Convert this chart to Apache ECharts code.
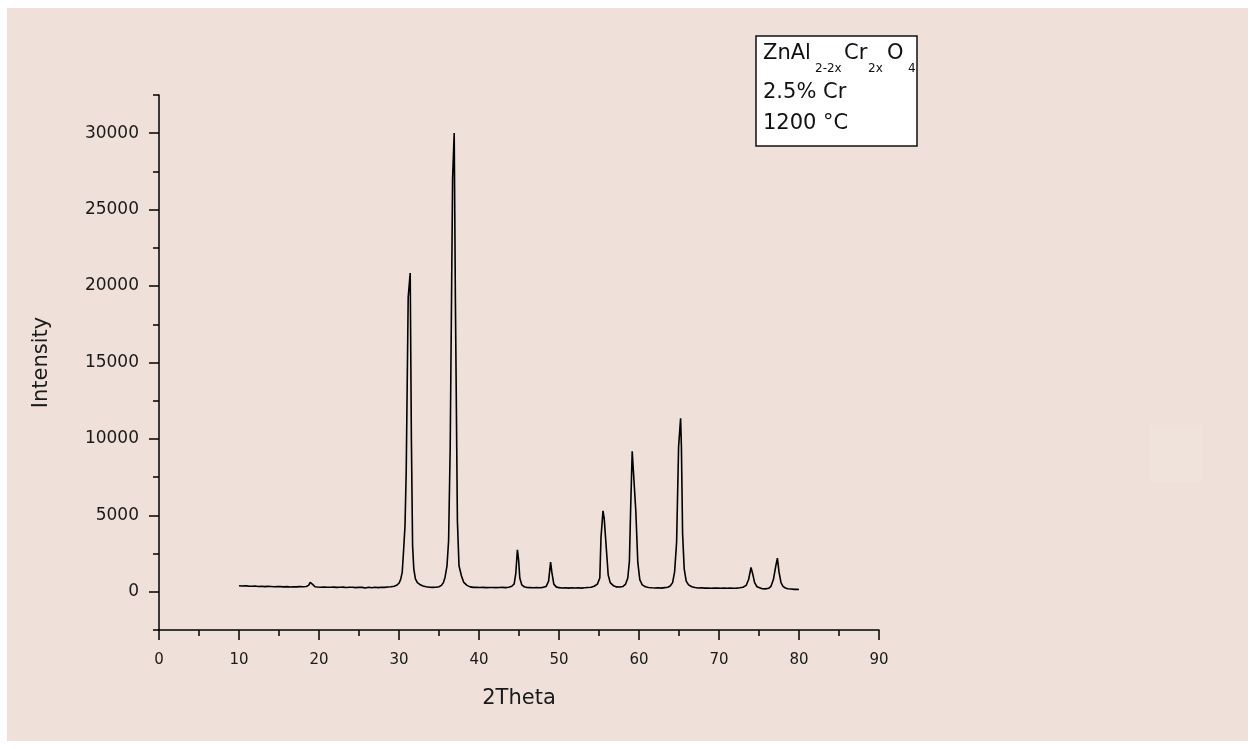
<!DOCTYPE html>
<html>
<head>
<meta charset="utf-8">
<title>ZnAl2-2xCr2xO4 XRD pattern</title>
<script src="https://cdn.jsdelivr.net/npm/echarts@6/dist/echarts.min.js"></script>
<style>
  html, body { margin: 0; padding: 0; background: #ffffff; }
  #panel { position: absolute; left: 7px; top: 8px; width: 1241px; height: 733px; background: #efe0d9; }
  #chart { position: absolute; left: 0; top: 0; width: 1255px; height: 749px; }
</style>
</head>
<body>
<div id="panel"></div>
<div id="chart"></div>
<script>
// Diffraction angle (2θ, degrees) and measured intensity (counts), row by row
const twoTheta = [
  10.0, 10.4, 10.8, 11.2, 11.6, 12.0, 12.4, 12.8, 13.2, 13.6,
  14.0, 14.4, 14.8, 15.2, 15.6, 16.0, 16.4, 16.8, 17.2, 17.6,
  18.0, 18.4, 18.7, 18.9, 19.0, 19.2, 19.5, 19.8, 20.2, 20.6,
  21.0, 21.4, 21.8, 22.2, 22.6, 23.0, 23.4, 23.8, 24.2, 24.6,
  25.0, 25.4, 25.8, 26.2, 26.6, 27.0, 27.4, 27.8, 28.2, 28.6,
  29.0, 29.4, 29.7, 30.0, 30.2, 30.4, 30.55, 30.75, 30.9, 31.15,
  31.4, 31.55, 31.7, 31.85, 32.05, 32.3, 32.6, 33.0, 33.4, 33.8,
  34.2, 34.6, 35.0, 35.3, 35.55, 35.75, 36.0, 36.2, 36.4, 36.7,
  36.9, 37.05, 37.3, 37.5, 37.8, 38.1, 38.5, 38.9, 39.3, 39.7,
  40.1, 40.5, 40.9, 41.3, 41.7, 42.1, 42.5, 42.9, 43.3, 43.7,
  44.1, 44.4, 44.6, 44.8, 44.95, 45.1, 45.35, 45.65, 46.0, 46.4,
  46.8, 47.2, 47.6, 48.0, 48.4, 48.7, 48.95, 49.1, 49.35, 49.65,
  50.0, 50.4, 50.8, 51.2, 51.6, 52.0, 52.4, 52.8, 53.2, 53.6,
  54.0, 54.4, 54.8, 55.1, 55.25, 55.5, 55.65, 55.95, 56.15, 56.4,
  56.8, 57.2, 57.6, 58.0, 58.3, 58.6, 58.8, 58.95, 59.15, 59.4,
  59.6, 59.85, 60.1, 60.4, 60.8, 61.2, 61.6, 62.0, 62.4, 62.8,
  63.2, 63.6, 63.9, 64.2, 64.45, 64.7, 64.95, 65.2, 65.3, 65.45,
  65.65, 65.9, 66.2, 66.6, 67.0, 67.4, 67.8, 68.2, 68.6, 69.0,
  69.4, 69.8, 70.2, 70.6, 71.0, 71.4, 71.8, 72.2, 72.6, 73.0,
  73.4, 73.7, 74.0, 74.2, 74.45, 74.75, 75.0, 75.4, 75.8, 76.2,
  76.5, 76.8, 77.1, 77.3, 77.5, 77.75, 78.0, 78.3, 78.6, 79.0,
  79.4, 79.7, 80.0
];
const intensity = [
  400, 380, 395, 370, 360, 375, 350, 360, 340, 355,
  345, 330, 350, 335, 320, 340, 310, 330, 320, 335,
  330, 350, 420, 620, 680, 480, 330, 310, 300, 310,
  295, 300, 305, 290, 300, 305, 285, 300, 295, 270,
  300, 290, 250, 295, 260, 300, 270, 300, 290, 310,
  330, 360, 420, 560, 800, 1265, 2490, 4300, 7810, 19280,
  20850, 9890, 3013, 1500, 850, 600, 480, 380, 330, 300,
  290, 300, 330, 420, 600, 940, 1700, 3340, 9450, 27030,
  30020, 19060, 4650, 1700, 1050, 610, 420, 320, 290, 300,
  280, 290, 270, 280, 285, 270, 280, 290, 270, 300,
  360, 520, 1200, 2750, 2100, 900, 450, 330, 280, 270,
  260, 270, 260, 290, 350, 700, 1950, 1300, 500, 320,
  270, 250, 260, 240, 260, 250, 260, 240, 260, 280,
  300, 360, 500, 900, 3560, 5300, 4800, 2580, 1100, 600,
  400, 320, 310, 350, 480, 900, 2000, 5300, 9190, 9100,
  5300, 1920, 800, 450, 330, 280, 260, 250, 260, 240,
  270, 300, 380, 600, 1300, 3230, 9500, 11350, 9500, 3800,
  1500, 700, 450, 330, 280, 250, 260, 240, 250, 230,
  250, 240, 230, 240, 230, 240, 230, 240, 260, 300,
  420, 800, 1590, 1200, 600, 330, 230, 200, 190, 230,
  360, 800, 1700, 2200, 1300, 600, 350, 250, 200, 180,
  160, 170, 150
];

// Axis scales and labelled ticks
const xRange = [0, 90];
const xStep = 10;
const yRange = [-2500, 32500];
const yMinorStep = 2500;
const yMajorTicks = [0, 5000, 10000, 15000, 20000, 25000, 30000];

// Sample description box
const sampleFormula = [
  { text: 'ZnAl', sub: false },
  { text: '2-2x', sub: true },
  { text: 'Cr', sub: false },
  { text: '2x', sub: true },
  { text: 'O', sub: false },
  { text: '4', sub: true }
];
const sampleDoping = '2.5% Cr';
const sampleTemperature = '1200 °C';

const FONT = '"DejaVu Sans", "Liberation Sans", Arial, sans-serif';
const INK = '#111111';

const chart = echarts.init(document.getElementById('chart'), null, { renderer: 'canvas' });

// Box geometry and text placement
const box = { x: 756, y: 36, w: 161, h: 110 };
const formulaX = [763, 815, 844, 868, 887, 908];
const boxTexts = sampleFormula.map((p, i) => ({
  type: 'text',
  x: formulaX[i],
  y: p.sub ? 69 : 54,
  style: {
    text: p.text, fill: INK, font: (p.sub ? 12 : 21) + 'px ' + FONT,
    textAlign: 'left', textVerticalAlign: 'middle'
  }
}));
boxTexts.push({
  type: 'text', x: 763, y: 93,
  style: { text: sampleDoping, fill: INK, font: '21px ' + FONT, textAlign: 'left', textVerticalAlign: 'middle' }
});
boxTexts.push({
  type: 'text', x: 763, y: 124,
  style: { text: sampleTemperature, fill: INK, font: '21px ' + FONT, textAlign: 'left', textVerticalAlign: 'middle' }
});

const axisLine = { show: true, onZero: false, lineStyle: { color: '#000', width: 1.5 } };

chart.setOption({
  backgroundColor: 'transparent',
  animation: false,
  grid: { left: 159, right: 376, top: 95, bottom: 119, containLabel: false, outerBoundsMode: 'none' },
  xAxis: {
    type: 'value', min: xRange[0], max: xRange[1], interval: xStep,
    axisLine: axisLine,
    axisTick: { show: true, length: 10, lineStyle: { color: '#000', width: 1.5 } },
    minorTick: { show: true, splitNumber: 2, length: 6, lineStyle: { color: '#000', width: 1.5 } },
    splitLine: { show: false },
    axisLabel: { margin: 23, color: '#1a1a1a', fontSize: 15, fontFamily: FONT },
    name: '2Theta', nameLocation: 'middle', nameGap: 58,
    nameTextStyle: { color: '#1a1a1a', fontSize: 21, fontFamily: FONT }
  },
  yAxis: [
    {
      // minor ticks every 2500 and the axis line
      type: 'value', position: 'left', min: yRange[0], max: yRange[1], interval: yMinorStep,
      axisLine: axisLine,
      axisTick: { show: true, length: 6, lineStyle: { color: '#000', width: 1.5 } },
      axisLabel: { show: false },
      splitLine: { show: false },
      name: 'Intensity', nameLocation: 'middle', nameGap: 107, nameRotate: 90,
      nameTextStyle: { color: '#1a1a1a', fontSize: 21, fontFamily: FONT }
    },
    {
      // major ticks and labels every 5000
      type: 'value', position: 'left', min: yRange[0], max: yRange[1], interval: yMinorStep,
      axisLine: { show: false, onZero: false },
      axisTick: { show: true, length: 10, customValues: yMajorTicks, lineStyle: { color: '#000', width: 1.5 } },
      axisLabel: {
        show: true, customValues: yMajorTicks, margin: 20, color: '#1a1a1a', fontSize: 17, fontFamily: FONT,
        formatter: v => String(v)
      },
      splitLine: { show: false }
    }
  ],
  graphic: [
    {
      type: 'rect', silent: true, z: -5,
      shape: { x: 1150, y: 427, width: 52, height: 55 },
      style: { fill: 'rgba(255,255,255,0.1)' }
    },
    {
      type: 'group', z: 10,
      children: [
        {
          type: 'rect',
          shape: { x: box.x, y: box.y, width: box.w, height: box.h },
          style: { fill: '#ffffff', stroke: '#111', lineWidth: 1.5 }
        }
      ].concat(boxTexts)
    }
  ],
  series: [
    {
      type: 'line',
      xAxisIndex: 0, yAxisIndex: 0,
      data: twoTheta.map((t, i) => [t, intensity[i]]),
      showSymbol: false,
      symbol: 'none',
      smooth: false,
      lineStyle: { color: '#000', width: 1.6 },
      emphasis: { disabled: true }
    }
  ]
});
</script>
</body>
</html>
